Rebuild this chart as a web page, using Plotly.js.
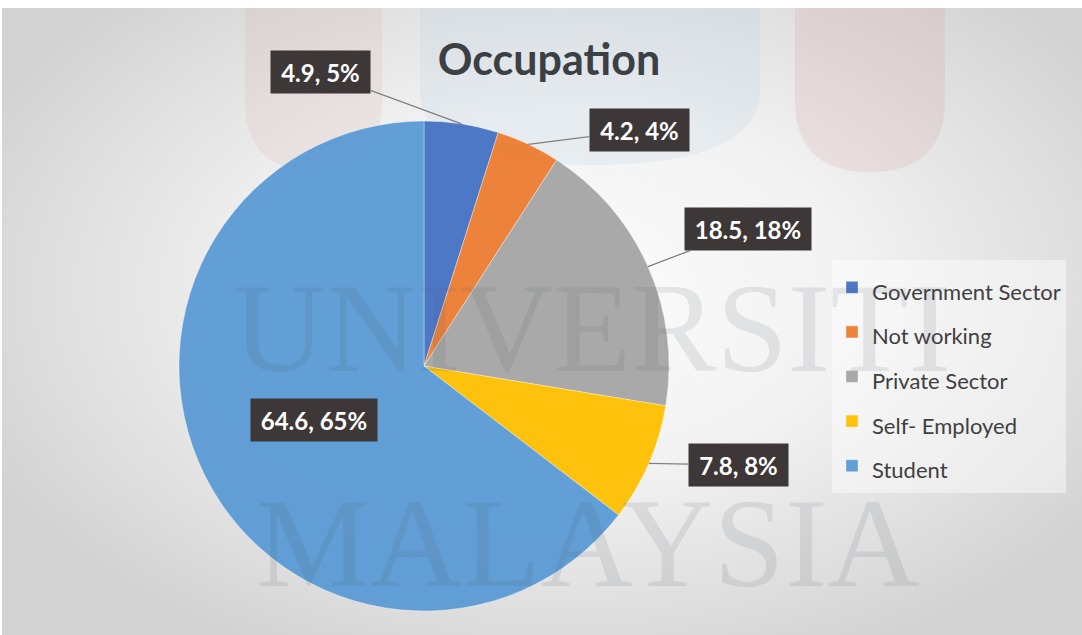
<!DOCTYPE html>
<html>
<head>
<meta charset="utf-8">
<script src="https://cdn.plot.ly/plotly-3.0.1.min.js"></script>
<style>
  html, body { margin:0; padding:0; background:#ffffff; }
  #bg { position:absolute; left:2px; top:8px; width:1080px; height:627px;
        background: radial-gradient(ellipse 60% 65% at 52% 45%, #fcfcfc 0%, #f2f2f2 45%, #dedede 80%, #d2d2d2 100%); }
  #chart { position:absolute; left:0; top:0; width:1082px; height:635px; }
</style>
</head>
<body>
<div id="bg"></div>
<div id="chart"></div>
<script>
// ---- data ----
const categories = ["Government Sector", "Not working", "Private Sector", "Self- Employed", "Student"];
const values = [4.9, 4.2, 18.5, 7.8, 64.6];
const percentLabels = ["5%", "4%", "18%", "8%", "65%"];
const chartTitle = "Occupation";

// ---- styling / layout config ----
const W = 1082, H = 635;
const colors = ["#4472C4", "#ED7D31", "#A5A5A5", "#FFC000", "#5B9BD5"];
const cx = 424, cy = 366, R = 245;           // pie geometry (px)
const labelOffsets = [[-141, -52], [111, -14], [100, -38], [90, 2], null]; // px offsets of callouts
const boxWidths = [97, 97, 124, 97, 124];

const trace = {
  type: "pie",
  labels: categories.map(c => '<span style="font-size:22px">' + c + '</span>'),
  values: values,
  sort: false,
  direction: "clockwise",
  rotation: 0,
  textinfo: "none",
  hoverinfo: "label+value+percent",
  marker: { colors: colors, line: { color: "rgba(255,255,255,0.35)", width: 1 } },
  domain: { x: [(cx - R) / W, (cx + R) / W], y: [(H - cy - R) / H, (H - cy + R) / H] },
  opacity: 0.95
};

// callout annotations computed from data
const total = values.reduce((a, b) => a + b, 0);
let cum = 0;
const annotations = [];
values.forEach((v, i) => {
  const mid = (cum + v / 2) / total;
  cum += v;
  const ang = mid * 2 * Math.PI;
  const text = "<b>" + v.toFixed(1) + ", " + percentLabels[i] + "</b>";
  const base = { text: text, font: { family: "Lato, 'Open Sans', sans-serif", size: 24, color: "#ffffff" },
                 bgcolor: "#3d3737", width: boxWidths[i], height: 40, xref: "paper", yref: "paper" };
  if (labelOffsets[i]) {
    const px = cx + R * Math.sin(ang), py = cy - R * Math.cos(ang);
    annotations.push(Object.assign(base, {
      x: px / W, y: 1 - py / H, showarrow: true, arrowhead: 0, arrowwidth: 1.3,
      arrowcolor: "#808080", standoff: 0, ax: labelOffsets[i][0], ay: labelOffsets[i][1]
    }));
  } else {
    const px = cx + 0.5 * R * Math.sin(ang), py = cy - 0.5 * R * Math.cos(ang);
    annotations.push(Object.assign(base, { x: px / W, y: 1 - py / H, xanchor: "center", yanchor: "middle", showarrow: false }));
  }
});

// watermark text
const wm = { family: "'Liberation Serif', 'DejaVu Serif', serif", size: 128, color: "rgba(80,90,110,0.13)" };
annotations.unshift(
  { text: "UNIVERSITI", x: 592 / W, y: 1 - 328 / H, xref: "paper", yref: "paper", xanchor: "center", yanchor: "middle", showarrow: false, font: wm },
  { text: "MALAYSIA", x: 588 / W, y: 1 - 543 / H, xref: "paper", yref: "paper", xanchor: "center", yanchor: "middle", showarrow: false, font: wm }
);

const shapes = [
  { type: "path", xref: "paper", yref: "paper", layer: "below",
    path: `M ${245/W} ${1-8/H} L ${245/W} ${1-100/H} Q ${245/W} ${1-170/H} ${312/W} ${1-170/H} Q ${382/W} ${1-170/H} ${382/W} ${1-100/H} L ${382/W} ${1-8/H} Z`,
    fillcolor: "rgba(215,160,160,0.16)", line: { width: 0 } },
  { type: "path", xref: "paper", yref: "paper", layer: "below",
    path: `M ${795/W} ${1-8/H} L ${795/W} ${1-100/H} Q ${795/W} ${1-172/H} ${870/W} ${1-172/H} Q ${945/W} ${1-172/H} ${945/W} ${1-100/H} L ${945/W} ${1-8/H} Z`,
    fillcolor: "rgba(215,160,160,0.2)", line: { width: 0 } },
  { type: "path", xref: "paper", yref: "paper", layer: "below",
    path: `M ${420/W} ${1-8/H} L ${420/W} ${1-90/H} Q ${420/W} ${1-165/H} ${590/W} ${1-165/H} Q ${760/W} ${1-165/H} ${760/W} ${1-90/H} L ${760/W} ${1-8/H} Z`,
    fillcolor: "rgba(170,200,225,0.16)", line: { width: 0 } }
];

const layout = {
  width: W, height: H,
  margin: { l: 0, r: 0, t: 0, b: 0 },
  paper_bgcolor: "rgba(0,0,0,0)",
  plot_bgcolor: "rgba(0,0,0,0)",
  title: { text: chartTitle, x: 549 / W, xanchor: "center", y: 1 - 60 / H, yanchor: "middle",
           font: { family: "Lato, 'Open Sans', sans-serif", size: 43, color: "#3b4045", weight: 700 } },
  showlegend: true,
  legend: { x: 832 / W, y: 1 - 260 / H, xanchor: "left", yanchor: "top",
            bgcolor: "rgba(255,255,255,0.45)", borderwidth: 0,
            font: { family: "Lato, 'Open Sans', sans-serif", size: 32, color: "#404040" },
            traceorder: "normal" },
  annotations: annotations,
  shapes: shapes
};

Plotly.newPlot("chart", [trace], layout, { displayModeBar: false, staticPlot: true });
</script>
</body>
</html>
